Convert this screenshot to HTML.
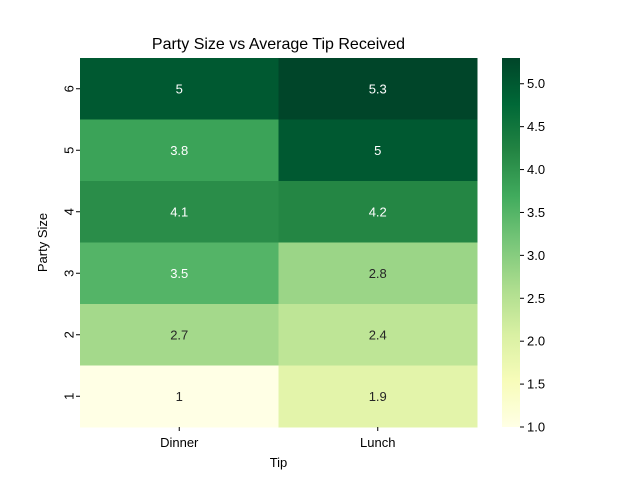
<!DOCTYPE html>
<html><head><meta charset="utf-8"><style>
body{margin:0;background:#fff;}
svg text{font-family:"Liberation Sans","DejaVu Sans",sans-serif;}
</style></head><body>
<svg id="chart" width="640" height="480" viewBox="0 0 640 480" xmlns="http://www.w3.org/2000/svg">
<defs>
<linearGradient id="cbg" x1="0" y1="1" x2="0" y2="0">
<stop offset="0" stop-color="#ffffe5"/><stop offset="0.125" stop-color="#f7fcb9"/>
<stop offset="0.25" stop-color="#d9f0a3"/><stop offset="0.375" stop-color="#addd8e"/>
<stop offset="0.5" stop-color="#78c679"/><stop offset="0.625" stop-color="#41ab5d"/>
<stop offset="0.75" stop-color="#238443"/><stop offset="0.875" stop-color="#006837"/>
<stop offset="1" stop-color="#004529"/>
</linearGradient>
</defs>
<text x="278.5" y="49" font-size="16" text-anchor="middle">Party Size vs Average Tip Received</text>
<g id="cells"></g>
<g id="axes"></g>
<text x="278.5" y="467" font-size="13" text-anchor="middle">Tip</text>
<text x="47" y="242.5" font-size="13" text-anchor="middle" transform="rotate(-90 47 242.5)">Party Size</text>
<rect x="502" y="58" width="18" height="369" fill="url(#cbg)"/>
<g id="cbar"></g>
</svg>
<script>
const columns = ["Dinner","Lunch"];
const rows = ["6","5","4","3","2","1"];
const dinnerValues = [5,3.8,4.1,3.5,2.7,1];
const lunchValues = [5.3,5,4.2,2.8,2.4,1.9];
const colorbarTicks = [1.0,1.5,2.0,2.5,3.0,3.5,4.0,4.5,5.0];
const vmin = 1.0, vmax = 5.3;

const NS="http://www.w3.org/2000/svg";
const plotLeft=80,plotRight=477,plotTop=58,plotBottom=427;
const cw=(plotRight-plotLeft)/columns.length, rh=(plotBottom-plotTop)/rows.length;
const stops=[[255,255,229],[247,252,185],[217,240,163],[173,221,142],[120,198,121],[65,171,93],[35,132,67],[0,104,55],[0,69,41]];
function color(v){let t=(v-vmin)/(vmax-vmin);t=Math.max(0,Math.min(1,t));const p=t*8,i=Math.min(7,Math.floor(p)),f=p-i;
const c=stops[i].map((a,k)=>a+(stops[i+1][k]-a)*f);return c;}
function lum(c){const l=c.map(x=>{x/=255;return x<=0.03928?x/12.92:Math.pow((x+0.055)/1.055,2.4)});return 0.2126*l[0]+0.7152*l[1]+0.0722*l[2];}
function mk(tag,attrs,parent){const e=document.createElementNS(NS,tag);for(const k in attrs)e.setAttribute(k,attrs[k]);parent.appendChild(e);return e;}
const cellsG=document.getElementById('cells'),axesG=document.getElementById('axes'),cbarG=document.getElementById('cbar');
const series=[dinnerValues,lunchValues];
series.forEach((vals,ci)=>{vals.forEach((v,ri)=>{
 const c=color(v);
 const r=mk('rect',{x:plotLeft+ci*cw,y:plotTop+ri*rh,width:cw+0.5,height:rh+0.5,fill:`rgb(${c.map(Math.round).join(',')})`},cellsG);
 
 
 const t=mk('text',{x:plotLeft+ci*cw+cw/2,y:plotTop+ri*rh+rh/2+4.5,'font-size':13,'text-anchor':'middle',fill:lum(c)>0.408?'#262626':'#ffffff'},cellsG);
 t.textContent=String(v);
 
 
});});
columns.forEach((c,i)=>{const x=plotLeft+i*cw+cw/2;
 const l=mk('line',{x1:x,x2:x,y1:plotBottom,y2:plotBottom+4,stroke:'#000'},axesG);
 
 
 const t=mk('text',{x:x,y:plotBottom+20,'font-size':13,'text-anchor':'middle'},axesG);t.textContent=c;
 
 
});
rows.forEach((r,i)=>{const y=plotTop+i*rh+rh/2;
 const l=mk('line',{x1:plotLeft-4,x2:plotLeft,y1:y,y2:y,stroke:'#000'},axesG);
 
 
 const t=mk('text',{x:plotLeft-11,y:y,'font-size':13,'text-anchor':'middle',transform:`rotate(-90 ${plotLeft-11} ${y})`,dy:'0.35em'},axesG);t.textContent=r;
 
 
});
colorbarTicks.forEach(v=>{const y=plotBottom-(v-vmin)/(vmax-vmin)*(plotBottom-plotTop);
 const l=mk('line',{x1:520,x2:524,y1:y,y2:y,stroke:'#000'},cbarG);
 
 
 const t=mk('text',{x:527,y:y+4.5,'font-size':13},cbarG);t.textContent=v.toFixed(1);
 
 
});
</script>
</body></html>
